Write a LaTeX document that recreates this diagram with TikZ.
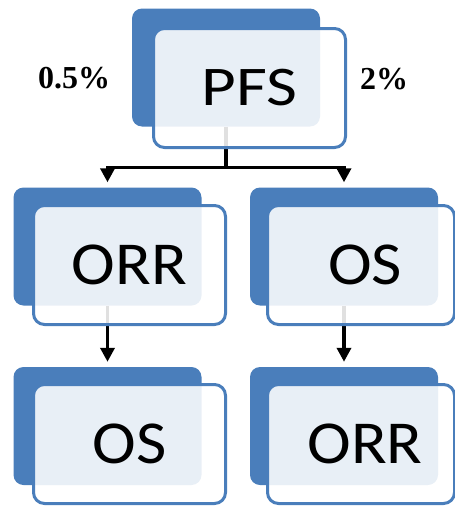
\documentclass[tikz,border=0pt]{standalone}
\usepackage{fontspec}
\setmainfont{Carlito}
\newfontfamily\pctfont{Liberation Serif}
\usetikzlibrary{arrows.meta}
\definecolor{boxblue}{HTML}{4A7EBB}
\tikzset{
  backcard/.style={fill=boxblue, draw=none, rounded corners=10pt,
    minimum width=188pt, minimum height=118pt, inner sep=0pt},
  frontcard/.style={draw=boxblue, line width=3pt, fill=white, fill opacity=0.88,
    text opacity=1, rounded corners=11pt, minimum width=192pt,
    minimum height=119pt, inner sep=0pt, text=black},
  bigtext/.style={font=\fontsize{61pt}{61pt}\selectfont},
  toptext/.style={font=\fontsize{56pt}{56pt}\selectfont},
  link/.style={line width=3.5pt, black},
  linkarrow/.style={link, -{Triangle[length=14pt,width=14pt]}},
  pct/.style={font=\pctfont\bfseries\fontsize{32pt}{32pt}\selectfont, inner sep=0pt}
}
\begin{document}
\begin{tikzpicture}[x=1pt, y=-1pt]
  \useasboundingbox (0,0) rectangle (455,506);
  \clip (0,0) rectangle (455,506);

  % back cards
  \node[backcard] (pfsB) at (226,67.5) {};
  \node[backcard] (orrB) at (107.5,246.5) {};
  \node[backcard] (osB) at (344,246.5) {};
  \node[backcard] (osLB) at (107.5,426) {};
  \node[backcard] (orrRB) at (344,426) {};

  % connectors
  \draw[link] (pfsB.south) -- ++(0,41) coordinate (split);
  \draw[linkarrow] (split) -| ([yshift=5pt]orrB.north);
  \draw[linkarrow] (split) -| ([yshift=5pt]osB.north);
  \draw[linkarrow] (orrB.south) -- ([yshift=5pt]osLB.north);
  \draw[linkarrow] (osB.south) -- ([yshift=5pt]orrRB.north);

  % front cards with labels
  \node[frontcard, toptext] (pfs) at (249.5,88) {\scalebox{1.2}[1]{PFS}};
  \node[frontcard, bigtext] (orr) at (129.5,265) {\scalebox{1.08}[1]{ORR}};
  \node[frontcard, bigtext, minimum width=187pt] (os) at (361,265)
    {\hspace*{8pt}\scalebox{1.08}[1]{OS}};
  \node[frontcard, bigtext] (osL) at (129.5,444) {\scalebox{1.08}[1]{OS}};
  \node[frontcard, bigtext, minimum width=187pt] (orrR) at (361,444)
    {\hspace*{8pt}\scalebox{1.08}[1]{ORR}};

  % percentages beside the top card
  \node[pct] (left pct) at (74,78) {0.5\%};
  \node[pct] (right pct) at (384,79) {2\%};
\end{tikzpicture}
\end{document}
